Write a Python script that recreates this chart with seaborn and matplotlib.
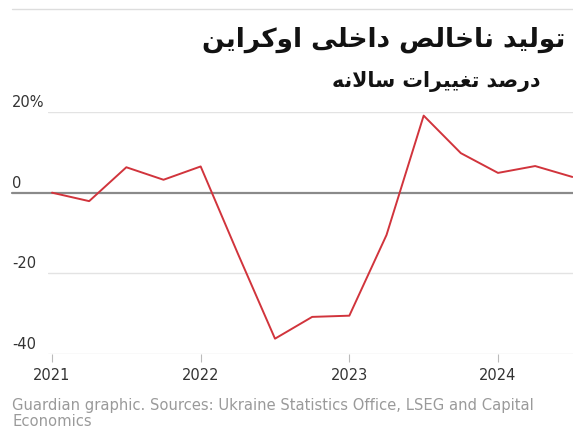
import matplotlib
matplotlib.use("Agg")
import matplotlib.pyplot as plt
import seaborn as sns
import pandas as pd
from matplotlib.lines import Line2D

# ---- data ----
quarter_pos = [2021.0, 2021.25, 2021.5, 2021.75, 2022.0, 2022.25, 2022.5, 2022.75,
               2023.0, 2023.25, 2023.5, 2023.75, 2024.0, 2024.25, 2024.5]
gdp_change = [0.0, -2.1, 6.3, 3.2, 6.5, -15.1, -36.2, -30.8, -30.5, -10.5,
              19.1, 9.8, 4.9, 6.6, 3.9]
x_ticks = [2021, 2022, 2023, 2024]
x_tick_labels = ["2021", "2022", "2023", "2024"]
y_ticks = [20, 0, -20, -40]
y_tick_labels = ["20%", "0", "-20", "-40"]

title = "تولید ناخالص داخلی اوکراین"
subtitle = "درصد تغییرات سالانه"
source = ("Guardian graphic. Sources: Ukraine Statistics Office, LSEG and Capital\n"
          "Economics")

# ---- minimal Arabic/Persian shaping (matplotlib has no complex text layout) ----
FORMS = {
    'ا': ('\uFE8D', '\uFE8E', None, None),
    'د': ('\uFEA9', '\uFEAA', None, None),
    'ر': ('\uFEAD', '\uFEAE', None, None),
    'و': ('\uFEED', '\uFEEE', None, None),
    'ت': ('\uFE95', '\uFE96', '\uFE97', '\uFE98'),
    'ل': ('\uFEDD', '\uFEDE', '\uFEDF', '\uFEE0'),
    'ن': ('\uFEE5', '\uFEE6', '\uFEE7', '\uFEE8'),
    'خ': ('\uFEA5', '\uFEA6', '\uFEA7', '\uFEA8'),
    'ص': ('\uFEB9', '\uFEBA', '\uFEBB', '\uFEBC'),
    'س': ('\uFEB1', '\uFEB2', '\uFEB3', '\uFEB4'),
    'غ': ('\uFECD', '\uFECE', '\uFECF', '\uFED0'),
    'ه': ('\uFEE9', '\uFEEA', '\uFEEB', '\uFEEC'),
    'ی': ('\uFBFC', '\uFBFD', '\uFBFE', '\uFBFF'),
    'ک': ('\uFB8E', '\uFB8F', '\uFB90', '\uFB91'),
    'لا': ('\uFEFB', '\uFEFC', None, None),
}


def shape_rtl(text):
    tokens = []
    i = 0
    while i < len(text):
        if text[i] == 'ل' and i + 1 < len(text) and text[i + 1] == 'ا':
            tokens.append('لا')
            i += 2
        else:
            tokens.append(text[i])
            i += 1
    out = []
    for k, t in enumerate(tokens):
        if t not in FORMS:
            out.append(t)
            continue
        prev = tokens[k - 1] if k > 0 else None
        nxt = tokens[k + 1] if k + 1 < len(tokens) else None
        dual = FORMS[t][2] is not None
        jp = prev in FORMS and FORMS[prev][2] is not None
        jn = dual and nxt in FORMS
        iso, fin, ini, med = FORMS[t]
        if jp and jn:
            out.append(med)
        elif jp:
            out.append(fin)
        elif jn:
            out.append(ini)
        else:
            out.append(iso)
    return "".join(out)[::-1]


# ---- figure ----
sns.set_theme(style="white")
plt.rcParams['font.family'] = ['DejaVu Sans']

W, H = 573, 428
fig = plt.figure(figsize=(W / 100, H / 100), dpi=100)
fig.patch.set_facecolor("white")

ax_left, ax_right = 48 / W, 1.0
ax_bottom, ax_top = 1 - 354 / H, 1 - 112 / H
ax = fig.add_axes([ax_left, ax_bottom, ax_right - ax_left, ax_top - ax_bottom])
ax.set_facecolor("white")

df = pd.DataFrame({"quarter": quarter_pos, "gdp": gdp_change})

# grid lines
for v in y_ticks:
    if v == 0:
        continue
    ax.axhline(v, color="#e3e3e3", lw=1.0, zorder=1)
# zero line extending to the left margin
ax.axhline(0, xmin=(12 - 48) / (W - 48), xmax=1, color="#8a8a8a", lw=1.6,
           zorder=2, clip_on=False)

sns.lineplot(data=df, x="quarter", y="gdp", ax=ax, color="#d1343c", lw=1.4,
             zorder=3, clip_on=False)

px_per_year = (498 - 52) / 3
ax.set_xlim(2021 - 4 / px_per_year, 2021 + (573 - 52) / px_per_year)
ax.set_ylim(-40, 20)

for s in ax.spines.values():
    s.set_visible(False)

ax.set_xticks(x_ticks)
ax.set_xticklabels(x_tick_labels, fontsize=10.5, color="#333333")
ax.tick_params(axis="x", length=6, width=0.8, color="#bbbbbb", pad=4,
               bottom=True, direction="out")
ax.set_yticks([])
ax.set_xlabel("")
ax.set_ylabel("")

# y labels sitting above their gridlines at the left margin
for v, lab in zip(y_ticks, y_tick_labels):
    ax.annotate(lab, xy=(12 / W, v), xycoords=(fig.transFigure, "data"),
                xytext=(0, 1.5), textcoords="offset points",
                ha="left", va="bottom", fontsize=10.5, color="#333333")

# top rule
fig.add_artist(Line2D([12 / W, 1.0], [1 - 9 / H, 1 - 9 / H],
                      transform=fig.transFigure, color="#dddddd", lw=1.0))

# titles
fig.text(565 / W, 1 - 40 / H, shape_rtl(title), ha="right", va="center",
         fontsize=19, fontweight="bold", color="#121212")
fig.text(540 / W, 1 - 82 / H, shape_rtl(subtitle), ha="right", va="center",
         fontsize=14.8, fontweight="bold", color="#121212")

# source
fig.text(12 / W, 1 - 398 / H, source, ha="left", va="top", fontsize=10.6,
         color="#9a9a9a", linespacing=1.05)

fig.savefig("out.png", dpi=100, facecolor="white")
